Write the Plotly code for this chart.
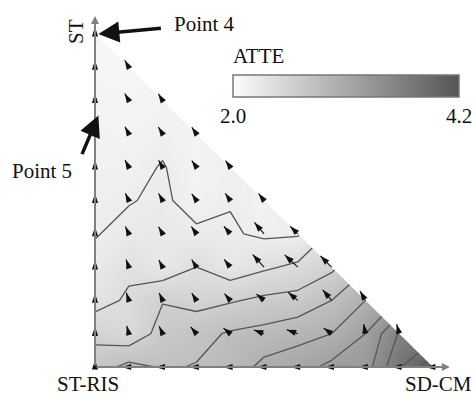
import math
import plotly.graph_objects as go

# ---------------- data ----------------
# grid fractions along the two edges of the simplex
sdcm_frac = [0.0, 0.1, 0.2, 0.3, 0.4, 0.5, 0.6, 0.7, 0.8, 0.9, 1.0]   # x (towards SD-CM)
st_frac = [0.0, 0.1, 0.2, 0.3, 0.4, 0.5, 0.6, 0.7, 0.8, 0.9, 1.0]     # y (towards ST)

# ATTE values, one list per SD-CM column, from ST = 0 upwards (triangle: i + j <= 10)
atte_cols = [
    [2.70, 2.55, 2.32, 2.25, 2.19, 2.17, 2.15, 2.13, 2.11, 2.09, 2.07],
    [2.86, 2.45, 2.43, 2.36, 2.25, 2.19, 2.15, 2.12, 2.10, 2.08],
    [2.78, 2.68, 2.59, 2.27, 2.25, 2.23, 2.21, 2.16, 2.12],
    [2.81, 2.74, 2.53, 2.40, 2.23, 2.13, 2.12, 2.11],
    [2.87, 2.82, 2.58, 2.28, 2.22, 2.19, 2.15],
    [3.06, 2.86, 2.64, 2.37, 2.17, 2.12],
    [3.12, 2.93, 2.67, 2.44, 2.18],
    [3.25, 3.00, 2.80, 2.56],
    [3.30, 3.20, 3.00],
    [3.78, 3.62],
    [4.15],
]

# flow direction (degrees, counter-clockwise from +SD-CM) and magnitude (fraction units)
flow_dir = [
    [90, 90, 90, 90, 90, 90, 90, 90, 90, 90, 90],
    [180, 105, 108, 110, 115, 115, 118, 118, 120, 120],
    [180, 115, 115, 118, 120, 120, 120, 122, 122],
    [180, 130, 122, 122, 125, 125, 125, 125],
    [180, 140, 130, 128, 130, 125, 125],
    [180, 160, 140, 132, 130, 128],
    [180, 160, 140, 137, 135],
    [180, 145, 130, 135],
    [180, 100, 120],
    [180, 105],
    [180],
]
flow_mag = [
    [0.021, 0.021, 0.021, 0.021, 0.021, 0.021, 0.021, 0.021, 0.021, 0.021, 0.021],
    [0.021, 0.024, 0.024, 0.024, 0.024, 0.024, 0.024, 0.024, 0.024, 0.024],
    [0.021, 0.024, 0.024, 0.024, 0.024, 0.024, 0.024, 0.024, 0.024],
    [0.021, 0.026, 0.026, 0.026, 0.026, 0.024, 0.024, 0.024],
    [0.021, 0.026, 0.026, 0.029, 0.029, 0.026, 0.024],
    [0.021, 0.032, 0.029, 0.050, 0.044, 0.026],
    [0.021, 0.035, 0.038, 0.053, 0.032],
    [0.021, 0.029, 0.041, 0.047],
    [0.021, 0.029, 0.032],
    [0.021, 0.029],
    [0.021],
]

cbar_title = "ATTE"
cbar_ticks = [2.0, 4.2]
cbar_ticktext = ["2.0", "4.2"]

# ---------------- figure ----------------
W, H = 476, 397
PLOT_W, PLOT_H = 360, 355
ML, MT = 95, 12
MR, MB = W - ML - PLOT_W, H - MT - PLOT_H
PX_X, PX_Y = 338.0, 333.0
xr = PLOT_W / PX_X
yr = PLOT_H / PX_Y
SX0, SY0 = ML, MT + PLOT_H        # pixel of the origin

n = len(sdcm_frac)
z = [[None] * n for _ in range(n)]
for i, col in enumerate(atte_cols):
    for j, v in enumerate(col):
        z[j][i] = v

serif = "Liberation Serif, Times New Roman, serif"

fig = go.Figure()
fig.add_trace(go.Heatmap(
    x=sdcm_frac, y=st_frac, z=z, zsmooth="best", connectgaps=True,
    zmin=2.0, zmax=4.2,
    colorscale=[[0, "#fcfcfc"], [1, "#555555"]],
    hoverinfo="skip",
    colorbar=dict(
        orientation="h", lenmode="pixels", len=226, thicknessmode="pixels", thickness=22,
        x=(346 - SX0) / PLOT_W, xanchor="center",
        y=(SY0 - 75) / PLOT_H, yanchor="top",
        xpad=0, ypad=0,
        tickvals=cbar_ticks, ticktext=cbar_ticktext, ticks="",
        tickfont=dict(family=serif, size=21, color="#111"),
        outlinecolor="#777", outlinewidth=1.5,
    ),
))
fig.add_trace(go.Contour(
    x=sdcm_frac, y=st_frac, z=z,
    contours=dict(start=2.2, end=4.0, size=0.2, coloring="none"),
    line=dict(color="#555555", width=1.3, smoothing=0),
    showscale=False, hoverinfo="skip",
))

# white mask outside the triangle (scatter layer sits above heatmap/contour)
fig.add_trace(go.Scatter(x=[0, 1, 2, 2, 0, 0], y=[1, 0, 0, 2, 2, 1], mode="lines",
                         fill="toself", fillcolor="white", line=dict(width=0),
                         hoverinfo="skip"))

# flow arrows: shafts + heads
sx, sy, hx, hy, hang = [], [], [], [], []
for i, col in enumerate(flow_dir):
    for j, ang in enumerate(col):
        x0, y0 = sdcm_frac[i], st_frac[j]
        m = flow_mag[i][j]
        x1 = x0 + m * math.cos(math.radians(ang))
        y1 = y0 + m * math.sin(math.radians(ang)) * PX_X / PX_Y
        sx += [x0, x1, None]
        sy += [y0, y1, None]
        hx.append(x1)
        hy.append(y1)
        hang.append(90 - ang)
fig.add_trace(go.Scatter(x=sx, y=sy, mode="lines", line=dict(color="#111", width=1.1),
                         hoverinfo="skip", cliponaxis=False))
fig.add_trace(go.Scatter(x=hx, y=hy, mode="markers", cliponaxis=False, hoverinfo="skip",
                         marker=dict(symbol="arrow", size=10, angle=hang, color="#111",
                                     line=dict(width=0))))

ann = []
# axes with arrow tips
ann.append(dict(x=0, y=1.054, ax=0, ay=0, xref="x", yref="y", axref="x", ayref="y",
                text="", showarrow=True, arrowhead=2, arrowsize=0.8, arrowwidth=2, arrowcolor="#808080"))
ann.append(dict(x=1.05, y=0, ax=0, ay=0, xref="x", yref="y", axref="x", ayref="y",
                text="", showarrow=True, arrowhead=2, arrowsize=0.8, arrowwidth=2, arrowcolor="#808080"))
# point callouts
ann.append(dict(x=0.01, y=1.0, ax=64, ay=-6, xref="x", yref="y", text="", showarrow=True,
                arrowhead=2, arrowsize=1.2, arrowwidth=3.5, arrowcolor="#111"))
ann.append(dict(x=0.01, y=0.755, ax=-17, ay=40, xref="x", yref="y", text="", showarrow=True,
                arrowhead=2, arrowsize=1.2, arrowwidth=3.5, arrowcolor="#111"))

def ptext(txt, px, py, angle=0, xanchor="center"):
    return dict(x=(px - SX0) / PLOT_W, y=(SY0 - py) / PLOT_H, xref="paper", yref="paper",
                text=txt, showarrow=False, textangle=angle, xanchor=xanchor, yanchor="middle",
                font=dict(family=serif, size=21, color="#111"))

ann.append(ptext(cbar_title, 231, 56, xanchor="left"))
ann.append(ptext("Point 4", 204, 24))
ann.append(ptext("Point 5", 42, 171))
ann.append(ptext("ST", 76, 32, -90))
ann.append(ptext("ST-RIS", 88, 384))
ann.append(ptext("SD-CM", 438, 384))

fig.update_layout(
    width=W, height=H, margin=dict(l=ML, r=MR, t=MT, b=MB, autoexpand=False),
    paper_bgcolor="white", plot_bgcolor="white", showlegend=False,
    xaxis=dict(range=[0, xr], visible=False),
    yaxis=dict(range=[0, yr], visible=False),
    annotations=ann,
)
fig.write_html("out.html", config={"displayModeBar": False},
               post_script="document.body.style.margin='0';document.body.style.overflow='hidden';")
